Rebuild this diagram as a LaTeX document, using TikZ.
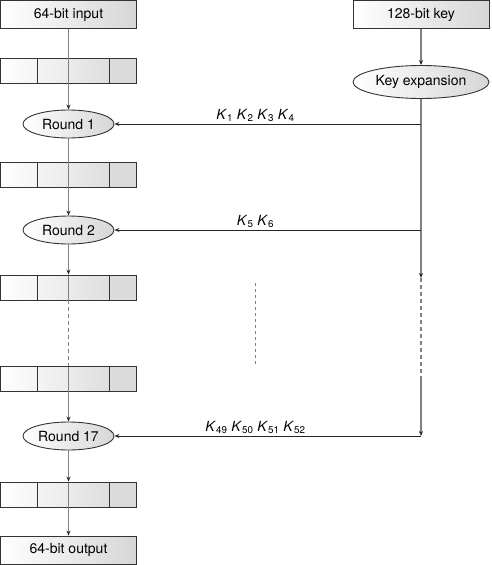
\documentclass[tikz,border=0pt]{standalone}
\usepackage{fontspec}
\setmainfont{TeX Gyre Heros}
\usetikzlibrary{arrows.meta,positioning,shapes.geometric}
\newcommand{\kk}[1]{\textit{K}\textsubscript{#1}}

\begin{document}
\begin{tikzpicture}[
  x=1pt, y=-1pt,
  font=\fontsize{14}{16}\selectfont,
  box/.style={rectangle, draw=black!80, line width=0.9pt, minimum width=136pt,
              minimum height=28pt, inner sep=0pt, left color=white, right color=black!16},
  reg/.style={rectangle, draw=black!80, line width=0.9pt, minimum width=136pt,
              minimum height=25pt, inner sep=0pt, left color=white, right color=black!16,
              path picture={
                \fill[black!14] ([xshift=109pt]path picture bounding box.north west) rectangle (path picture bounding box.south east);
                \draw[black!80, line width=0.9pt]
                  ([xshift=37pt]path picture bounding box.north west) -- ([xshift=37pt]path picture bounding box.south west)
                  ([xshift=109pt]path picture bounding box.north west) -- ([xshift=109pt]path picture bounding box.south west);
                \draw[black!50, line width=1.4pt]
                  ([xshift=68pt]path picture bounding box.north west) -- ([xshift=68pt]path picture bounding box.south west);}},
  rnd/.style={ellipse, draw=black!80, line width=0.9pt, minimum width=91pt,
              minimum height=28pt, inner sep=0pt, left color=white, right color=black!16},
  flow/.style={-{Stealth[length=5pt,width=4pt,black!85]}, draw=black!50, line width=1.4pt},
  keyarr/.style={-{Stealth[length=5pt,width=4pt]}, draw=black!85, line width=0.9pt},
  gap/.style={draw=black!50, line width=1.4pt, dash pattern=on 4pt off 3pt},
  klab/.style={above, inner sep=2pt}
]
\useasboundingbox (0,0) rectangle (491,565);

%% data path
\node[box] (inp) at (68.5,14.5) {64-bit input};
\node[reg] (reg1) at (68.5,70.5) {};
\node[rnd] (r1) at (68.5,124) {Round 1};
\node[reg] (reg2) at (68.5,174.5) {};
\node[rnd] (r2) at (68.5,230) {Round 2};
\node[reg] (reg3) at (68.5,287.5) {};
\node[reg] (reg4) at (68.5,378.5) {};
\node[rnd] (r17) at (68.5,436) {Round 17};
\node[reg] (reg5) at (68.5,494.5) {};
\node[box] (out) at (68.5,550) {64-bit output};

%% key schedule
\node[box] (key) at (421,14.5) {128-bit key};
\node[rnd, minimum width=136pt, minimum height=33pt] (kexp) at (421,82) {Key expansion};
\coordinate (t1) at (421,124);
\coordinate (t2) at (421,230);
\coordinate (ka) at (421,278);
\coordinate (kb) at (421,378);
\coordinate (t17) at (421,436);
\coordinate (ma) at (255,283);
\coordinate (mb) at (255,367);

%% left chain
\draw[flow] (inp) -- (r1);
\draw[flow] (r1) -- (r2);
\draw[flow] (r2) -- (reg3);
\draw[gap] (reg3) -- (reg4);
\draw[flow] (reg4) -- (r17);
\draw[flow] (r17) -- (reg5);
\draw[flow] (reg5) -- (out);

%% right chain
\draw[flow] (key) -- (kexp);
\draw[flow] (kexp) -- (ka);
\draw[gap] (ka) -- (kb);
\draw[flow] (kb) -- (t17);
\draw[gap, line width=0.9pt, dash pattern=on 3pt off 3pt] (ma) -- (mb);

%% subkeys
\draw[keyarr] (t1) -- node[klab, pos=0.54] {\kk{1} \kk{2} \kk{3} \kk{4}} (r1);
\draw[keyarr] (t2) -- node[klab, pos=0.54] {\kk{5} \kk{6}} (r2);
\draw[keyarr] (t17) -- node[klab, pos=0.54] {\kk{49} \kk{50} \kk{51} \kk{52}} (r17);
\end{tikzpicture}
\end{document}
